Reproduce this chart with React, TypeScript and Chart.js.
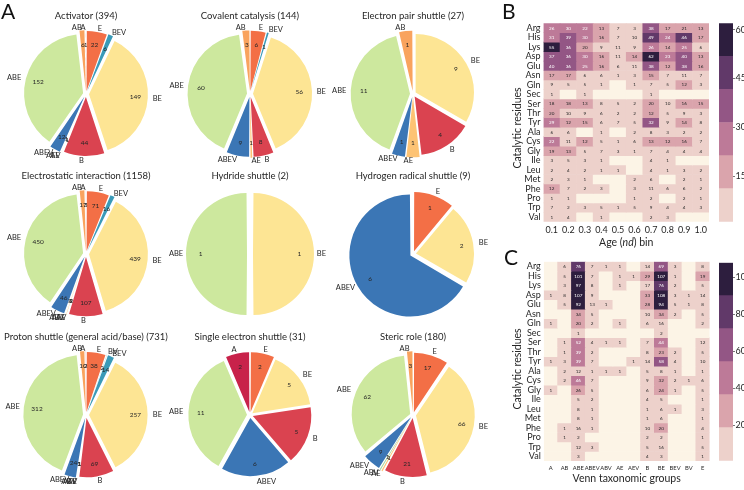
import React, { useEffect, useRef } from "react";
import { Chart, registerables } from "chart.js";

Chart.register(...registerables);

const FONT = "Lato, 'Open Sans', 'DejaVu Sans', sans-serif";
const INK = "#262626";

// ---------------- Panel A : pies ----------------
const groups = ["A", "AB", "ABE", "ABEV", "ABV", "AE", "AEV", "B", "BE", "BEV", "BV", "E"];
const groupColors = [
  "#c8224a", "#f9a35e", "#cde89e", "#3b76b5", "#a7d6a2", "#fdc374",
  "#e9e3b0", "#da4350", "#fde594", "#3a9ab8", "#56b3ad", "#f36f46",
];

const roleNames = [
  "Activator",
  "Covalent catalysis",
  "Electron pair shuttle",
  "Electrostatic interaction",
  "Hydride shuttle",
  "Hydrogen radical shuttle",
  "Proton shuttle (general acid/base)",
  "Single electron shuttle",
  "Steric role",
];
// counts in the order of `groups`
const activatorCounts = [1, 6, 152, 12, 0, 1, 1, 44, 149, 6, 0, 22];
const covalentCounts = [0, 3, 60, 9, 0, 1, 0, 8, 56, 1, 0, 6];
const electronPairCounts = [0, 1, 11, 1, 0, 1, 0, 4, 9, 0, 0, 0];
const electrostaticCounts = [3, 17, 450, 46, 3, 4, 2, 107, 439, 16, 0, 71];
const hydrideCounts = [0, 0, 1, 0, 0, 0, 0, 0, 1, 0, 0, 0];
const hydrogenRadicalCounts = [0, 0, 0, 6, 0, 0, 0, 0, 2, 0, 0, 1];
const protonCounts = [2, 10, 312, 24, 1, 1, 1, 69, 257, 14, 2, 38];
const singleElectronCounts = [2, 0, 11, 6, 0, 0, 0, 5, 5, 0, 0, 2];
const stericCounts = [0, 3, 62, 9, 1, 1, 0, 21, 66, 0, 0, 17];
const roleCounts = [
  activatorCounts, covalentCounts, electronPairCounts,
  electrostaticCounts, hydrideCounts, hydrogenRadicalCounts,
  protonCounts, singleElectronCounts, stericCounts,
];

// ---------------- Panel B / C : heatmaps ----------------
const residues = [
  "Arg", "His", "Lys", "Asp", "Glu", "Asn", "Gln", "Sec", "Ser", "Thr", "Tyr",
  "Ala", "Cys", "Gly", "Ile", "Leu", "Met", "Phe", "Pro", "Trp", "Val",
];
const ageBins = ["0.1", "0.2", "0.3", "0.4", "0.5", "0.6", "0.7", "0.8", "0.9", "1.0"];
const ageCounts = [
  [26, 30, 22, 13, 7, 3, 38, 17, 21, 13],
  [31, 39, 30, 16, 7, 10, 49, 24, 46, 17],
  [55, 36, 20, 9, 11, 9, 26, 14, 25, 6],
  [37, 36, 30, 16, 11, 14, 62, 23, 40, 13],
  [40, 36, 25, 16, 6, 11, 38, 12, 38, 16],
  [17, 17, 6, 6, 1, 3, 15, 7, 11, 7],
  [9, 5, 5, 1, 0, 1, 7, 5, 12, 3],
  [1, 0, 1, 0, 0, 0, 1, 0, 0, 0],
  [18, 18, 13, 8, 5, 2, 20, 10, 16, 15],
  [20, 10, 9, 6, 2, 2, 12, 5, 9, 3],
  [29, 12, 15, 6, 7, 5, 32, 9, 14, 8],
  [6, 6, 0, 1, 0, 2, 8, 3, 2, 2],
  [22, 11, 12, 5, 1, 6, 13, 12, 16, 7],
  [19, 13, 5, 7, 3, 1, 7, 4, 4, 4],
  [3, 5, 3, 1, 0, 0, 4, 1, 0, 0],
  [2, 4, 2, 1, 1, 0, 4, 1, 3, 2],
  [2, 3, 1, 0, 0, 2, 6, 0, 2, 1],
  [12, 7, 2, 3, 0, 3, 11, 6, 6, 2],
  [1, 1, 0, 0, 0, 1, 2, 0, 2, 1],
  [7, 2, 3, 5, 1, 5, 9, 4, 4, 3],
  [1, 4, 0, 1, 0, 0, 2, 3, 0, 0],
];
const vennGroups = groups;
const vennCounts = [
  [0, 6, 76, 7, 1, 1, 0, 14, 69, 3, 0, 8],
  [0, 5, 101, 7, 0, 1, 1, 29, 107, 1, 0, 19],
  [0, 3, 97, 8, 0, 1, 0, 17, 76, 2, 0, 5],
  [1, 8, 107, 9, 0, 0, 0, 33, 108, 3, 1, 14],
  [0, 5, 92, 13, 1, 0, 0, 28, 94, 5, 1, 8],
  [0, 0, 34, 5, 0, 0, 0, 10, 34, 2, 0, 5],
  [1, 0, 20, 2, 0, 1, 0, 6, 16, 0, 0, 2],
  [0, 0, 1, 0, 0, 0, 0, 0, 2, 0, 0, 0],
  [0, 1, 52, 4, 1, 1, 0, 7, 44, 0, 0, 12],
  [0, 1, 39, 2, 0, 0, 0, 8, 23, 2, 0, 5],
  [1, 3, 39, 7, 0, 0, 1, 14, 58, 4, 0, 10],
  [0, 2, 12, 1, 1, 1, 0, 5, 8, 1, 0, 1],
  [0, 2, 46, 7, 0, 0, 0, 9, 32, 2, 1, 6],
  [1, 0, 26, 5, 0, 0, 0, 6, 24, 1, 0, 5],
  [0, 0, 5, 2, 0, 0, 0, 4, 5, 0, 0, 1],
  [0, 0, 8, 1, 0, 0, 0, 1, 6, 1, 0, 3],
  [0, 0, 8, 1, 0, 0, 0, 1, 6, 0, 0, 1],
  [0, 1, 16, 1, 0, 0, 0, 10, 20, 0, 0, 4],
  [0, 1, 2, 0, 0, 0, 0, 2, 2, 0, 0, 1],
  [0, 0, 12, 3, 0, 0, 0, 5, 16, 0, 0, 5],
  [0, 0, 3, 0, 0, 0, 0, 4, 3, 0, 0, 1],
];
const ageColorbarTicks = [15, 30, 45, 60];
const vennColorbarTicks = [20, 40, 60, 80, 100];
const heatPalette = ["#edd1cb", "#daa4ac", "#bd7a98", "#935685", "#613969", "#2d1e3e"];
const CREAM = "#fcf4e6";

// ---------------- helpers ----------------
const PIE_W = 176;
const PIE_H = 172;
const PIE_R = 58;
const PIE_OFFSET = 12; // chart.js translates arcs by offset/4 px
const pieCenters = [
  [86, 94], [250, 94], [413, 94],
  [86, 254], [250, 254], [413, 254],
  [86, 415], [250, 415], [413, 415],
];

const pieText = {
  id: "pieText",
  afterDraw(chart: any, _args: any, opts: any) {
    const { ctx } = chart;
    const meta = chart.getDatasetMeta(0);
    const values = chart.data.datasets[0].data;
    const labels = chart.data.labels;
    ctx.save();
    ctx.fillStyle = INK;
    meta.data.forEach((arc: any, i: number) => {
      const v = values[i];
      if (!v) return;
      const p = arc.getProps(["x", "y", "startAngle", "endAngle"], true);
      const mid = (p.startAngle + p.endAngle) / 2;
      const c = Math.cos(mid);
      const s = Math.sin(mid);
      const shift = PIE_OFFSET / 4;
      const cx = p.x + c * shift;
      const cy = p.y + s * shift;
      ctx.textBaseline = "middle";
      ctx.font = `6.5px ${FONT}`;
      ctx.textAlign = "center";
      ctx.fillText(String(v), cx + c * PIE_R * 0.8, cy + s * PIE_R * 0.8);
      ctx.font = `7.5px ${FONT}`;
      ctx.textAlign = c > 1e-9 ? "left" : "right";
      ctx.fillText(String(labels[i]), cx + c * PIE_R * 1.1, cy + s * PIE_R * 1.1);
    });
    ctx.font = `9.5px ${FONT}`;
    ctx.textAlign = "center";
    ctx.textBaseline = "middle";
    ctx.fillText(opts.title, chart.width / 2, PIE_H / 2 - 78);
    ctx.restore();
  },
};

function pieConfig(name: string, counts: number[]) {
  const order = groups.map((_, i) => i).reverse(); // clockwise from top
  const total = counts.reduce((a, b) => a + b, 0);
  return {
    type: "pie",
    data: {
      labels: order.map((i) => groups[i]),
      datasets: [
        {
          data: order.map((i) => counts[i]),
          backgroundColor: order.map((i) => groupColors[i]),
          borderWidth: 0,
          offset: PIE_OFFSET,
        },
      ],
    },
    options: {
      responsive: false,
      animation: false,
      devicePixelRatio: 1,
      events: [],
      radius: PIE_R,
      layout: { padding: 0 },
      plugins: {
        legend: { display: false },
        tooltip: { enabled: false },
        pieText: { title: `${name} (${total})` },
      },
    },
    plugins: [pieText],
  };
}

function binIndex(v: number, vmin: number, vmax: number) {
  return Math.max(0, Math.min(heatPalette.length - 1, Math.floor(((v - vmin) / (vmax - vmin)) * heatPalette.length)));
}
function cellColor(v: number, vmin: number, vmax: number) {
  return v > 0 ? heatPalette[binIndex(v, vmin, vmax)] : CREAM;
}
function range(counts: number[][]) {
  const vals = counts.flat().filter((v) => v > 0);
  return [Math.min(...vals), Math.max(...vals)];
}

const heatText = {
  id: "heatText",
  afterDraw(chart: any, _args: any, opts: any) {
    const { ctx } = chart;
    const { x, y } = chart.scales;
    ctx.save();
    ctx.textAlign = "center";
    ctx.textBaseline = "middle";
    ctx.font = `4.6px ${FONT}`;
    opts.counts.forEach((row: number[], i: number) =>
      row.forEach((v: number, j: number) => {
        if (!v) return;
        ctx.fillStyle = binIndex(v, opts.vmin, opts.vmax) >= 2 ? "#ffffff" : INK;
        ctx.fillText(String(v), x.getPixelForValue(j), y.getPixelForValue(i) + 0.3);
      })
    );
    ctx.fillStyle = INK;
    ctx.font = `10.5px ${FONT}`;
    ctx.save();
    ctx.translate(opts.yTitleX, opts.yTitleY);
    ctx.rotate(-Math.PI / 2);
    ctx.fillText("Catalytic residues", 0, 0);
    ctx.restore();
    const parts: [string, boolean][] = opts.xTitle;
    const fontOf = (it: boolean) => `${it ? "italic " : ""}10.5px ${FONT}`;
    let total = 0;
    parts.forEach(([t, it]) => {
      ctx.font = fontOf(it);
      total += ctx.measureText(t).width;
    });
    let cx = (chart.chartArea.left + chart.chartArea.right) / 2 - total / 2;
    ctx.textAlign = "left";
    parts.forEach(([t, it]) => {
      ctx.font = fontOf(it);
      ctx.fillText(t, cx, opts.xTitleY);
      cx += ctx.measureText(t).width;
    });
    ctx.restore();
  },
};

const HEAT_W = 225;
const HEAT_H = 250;
const X_AXIS_H = 20;

function heatConfig(cols: string[], counts: number[][], area: any, xFont: number, xPad: number, titles: any) {
  const [vmin, vmax] = range(counts);
  return {
    type: "bar",
    data: {
      labels: cols,
      datasets: residues.map((name, i) => ({
        label: name,
        data: cols.map(() => [i - 0.5, i + 0.5]),
        backgroundColor: counts[i].map((v) => cellColor(v, vmin, vmax)),
        borderWidth: 0,
        barPercentage: 1,
        categoryPercentage: 1,
        grouped: false,
      })),
    },
    options: {
      responsive: false,
      animation: false,
      devicePixelRatio: 1,
      events: [],
      layout: {
        padding: { left: 0, top: area.top, right: HEAT_W - area.right, bottom: HEAT_H - area.bottom - X_AXIS_H },
      },
      scales: {
        x: {
          type: "category",
          offset: true,
          grid: { display: false, drawTicks: false },
          border: { display: false },
          ticks: { font: { family: FONT, size: xFont }, color: INK, padding: xPad, maxRotation: 0, autoSkip: false },
          afterFit: (s: any) => { s.height = X_AXIS_H; },
        },
        y: {
          type: "linear",
          min: -0.5,
          max: residues.length - 0.5,
          reverse: true,
          grid: { display: false, drawTicks: false },
          border: { display: false },
          afterBuildTicks: (s: any) => { s.ticks = residues.map((_, i) => ({ value: i })); },
          ticks: {
            autoSkip: false,
            font: { family: FONT, size: 9, lineHeight: 1 },
            color: INK,
            padding: 3,
            callback: (v: any) => residues[v],
          },
          afterFit: (s: any) => { s.width = area.left; },
        },
      },
      plugins: {
        legend: { display: false },
        tooltip: { enabled: false },
        heatText: { counts, vmin, vmax, ...titles },
      },
    },
    plugins: [heatText],
  };
}

const CB_W = 30;
const CB_LEFT = 5;
const CB_BAR = 14;

function colorbarConfig(counts: number[][], ticks: number[], top: number, bottom: number) {
  const [vmin, vmax] = range(counts);
  const step = (vmax - vmin) / heatPalette.length;
  return {
    type: "bar",
    data: {
      labels: [""],
      datasets: heatPalette.map((c, k) => ({
        data: [[vmin + k * step, vmin + (k + 1) * step]],
        backgroundColor: c,
        borderWidth: 0,
        barPercentage: 1,
        categoryPercentage: 1,
        grouped: false,
      })),
    },
    options: {
      responsive: false,
      animation: false,
      devicePixelRatio: 1,
      events: [],
      layout: { padding: { left: CB_LEFT, right: 0, top, bottom: HEAT_H - bottom } },
      scales: {
        x: { display: false },
        y: {
          position: "right",
          min: vmin,
          max: vmax,
          afterBuildTicks: (s: any) => { s.ticks = ticks.map((v) => ({ value: v })); },
          grid: { display: true, drawOnChartArea: false, drawTicks: true, tickLength: 2, color: "#555", lineWidth: 0.8 },
          border: { display: false },
          ticks: { font: { family: FONT, size: 9 }, color: INK, padding: 0.5, autoSkip: false },
          afterFit: (s: any) => { s.width = CB_W - CB_LEFT - CB_BAR; },
        },
      },
      plugins: { legend: { display: false }, tooltip: { enabled: false } },
    },
  };
}

function ChartBox({ left, top, width, height, make }: any) {
  const ref = useRef<HTMLCanvasElement>(null);
  useEffect(() => {
    const chart = new Chart(ref.current as HTMLCanvasElement, make());
    return () => chart.destroy();
  }, []);
  return (
    <canvas
      ref={ref}
      width={width}
      height={height}
      style={{ position: "absolute", left, top, width, height }}
    />
  );
}

const letterStyle: any = {
  position: "absolute",
  fontFamily: FONT,
  fontSize: 21,
  lineHeight: "21px",
  color: "#111",
};

export default function App() {
  return (
    <div
      style={{
        position: "absolute",
        left: 0,
        top: 0,
        width: 744,
        height: 490,
        overflow: "hidden",
        background: "#ffffff",
      }}
    >
      {roleNames.map((name, k) => (
        <ChartBox
          key={name}
          left={pieCenters[k][0] - PIE_W / 2}
          top={pieCenters[k][1] - PIE_H / 2}
          width={PIE_W}
          height={PIE_H}
          make={() => pieConfig(name, roleCounts[k])}
        />
      ))}
      <ChartBox
        left={490}
        top={0}
        width={HEAT_W}
        height={HEAT_H}
        make={() =>
          heatConfig(ageBins, ageCounts, { left: 53.5, right: 219, top: 23.3, bottom: 221.7 }, 9, 3, {
            yTitleX: 28,
            yTitleY: 128,
            xTitleY: 243,
            xTitle: [["Age (", false], ["nd", true], [") bin", false]],
          })
        }
      />
      <ChartBox
        left={714}
        top={0}
        width={CB_W}
        height={HEAT_H}
        make={() => colorbarConfig(ageCounts, ageColorbarTicks, 23.3, 221.7)}
      />
      <ChartBox
        left={490}
        top={240}
        width={HEAT_W}
        height={HEAT_H}
        make={() =>
          heatConfig(vennGroups, vennCounts, { left: 53.8, right: 219.6, top: 21.7, bottom: 221 }, 5.8, 4, {
            yTitleX: 28,
            yTitleY: 129,
            xTitleY: 239,
            xTitle: [["Venn taxonomic groups", false]],
          })
        }
      />
      <ChartBox
        left={714}
        top={240}
        width={CB_W}
        height={HEAT_H}
        make={() => colorbarConfig(vennCounts, vennColorbarTicks, 22.7, 220.7)}
      />
      <div style={{ ...letterStyle, left: 1, top: 0 }}>A</div>
      <div style={{ ...letterStyle, left: 502, top: 0 }}>B</div>
      <div style={{ ...letterStyle, left: 504, top: 246 }}>C</div>
    </div>
  );
}
